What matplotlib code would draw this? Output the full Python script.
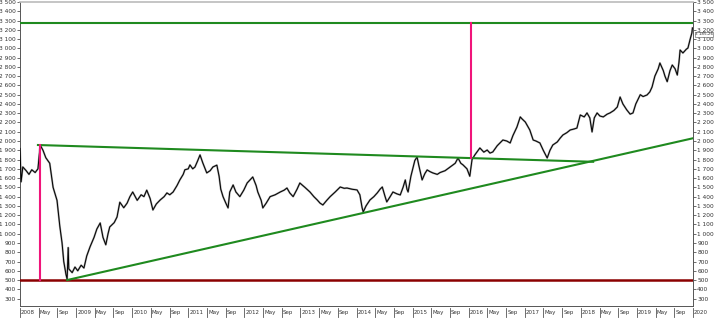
import matplotlib
matplotlib.use("Agg")
import matplotlib.pyplot as plt
import matplotlib.transforms as mtransforms
import numpy as np

# index level, decimal years
dates = [2008.00, 2008.02, 2008.05, 2008.11, 2008.16, 2008.21, 2008.27, 2008.32, 2008.36, 2008.41,
         2008.46, 2008.53, 2008.59, 2008.66, 2008.71, 2008.75, 2008.78, 2008.82, 2008.84, 2008.86,
         2008.87, 2008.93, 2008.98, 2009.03, 2009.09, 2009.14, 2009.19, 2009.25, 2009.32, 2009.37,
         2009.43, 2009.48, 2009.53, 2009.57, 2009.60, 2009.68, 2009.73, 2009.78, 2009.85, 2009.91,
         2009.96, 2010.01, 2010.09, 2010.16, 2010.21, 2010.26, 2010.32, 2010.37, 2010.43, 2010.50,
         2010.57, 2010.62, 2010.67, 2010.73, 2010.80, 2010.85, 2010.91, 2010.94, 2011.00, 2011.03,
         2011.08, 2011.12, 2011.17, 2011.21, 2011.26, 2011.33, 2011.39, 2011.44, 2011.51, 2011.55,
         2011.58, 2011.62, 2011.67, 2011.71, 2011.74, 2011.80, 2011.85, 2011.92, 2011.99, 2012.05,
         2012.10, 2012.15, 2012.21, 2012.24, 2012.30, 2012.33, 2012.39, 2012.46, 2012.55, 2012.64,
         2012.71, 2012.76, 2012.81, 2012.87, 2012.94, 2012.99, 2013.08, 2013.17, 2013.24, 2013.30,
         2013.35, 2013.40, 2013.47, 2013.53, 2013.62, 2013.71, 2013.78, 2013.83, 2013.92, 2014.01,
         2014.06, 2014.10, 2014.12, 2014.17, 2014.24, 2014.31, 2014.37, 2014.42, 2014.46, 2014.51,
         2014.54, 2014.60, 2014.65, 2014.72, 2014.78, 2014.83, 2014.87, 2014.90, 2014.92, 2014.97,
         2015.01, 2015.04, 2015.08, 2015.11, 2015.17, 2015.22, 2015.26, 2015.31, 2015.36, 2015.44,
         2015.49, 2015.58, 2015.67, 2015.76, 2015.81, 2015.86, 2015.90, 2015.97, 2016.02, 2016.06,
         2016.11, 2016.17, 2016.20, 2016.27, 2016.33, 2016.38, 2016.43, 2016.51, 2016.56, 2016.61,
         2016.68, 2016.74, 2016.79, 2016.86, 2016.92, 2016.95, 2017.01, 2017.06, 2017.09, 2017.15,
         2017.20, 2017.27, 2017.33, 2017.40, 2017.45, 2017.50, 2017.58, 2017.63, 2017.68, 2017.75,
         2017.81, 2017.88, 2017.93, 2017.99, 2018.06, 2018.11, 2018.16, 2018.20, 2018.24, 2018.29,
         2018.34, 2018.40, 2018.47, 2018.52, 2018.59, 2018.65, 2018.70, 2018.75, 2018.82, 2018.88,
         2018.93, 2018.98, 2019.06, 2019.11, 2019.18, 2019.23, 2019.27, 2019.32, 2019.38, 2019.41,
         2019.47, 2019.50, 2019.54, 2019.59, 2019.63, 2019.68, 2019.72, 2019.75, 2019.77, 2019.82,
         2019.88, 2019.91, 2019.95, 2019.98, 2019.99]
prices = [1920, 1560, 1720, 1680, 1640, 1690, 1660, 1700, 1957, 1900,
          1820, 1760, 1500, 1360, 1080, 900, 700, 560, 510, 850,
          620, 580, 640, 600, 660, 630, 760, 860, 960, 1050,
          1116, 960, 880, 1000, 1073, 1120, 1180, 1340, 1280, 1330,
          1400, 1450, 1360, 1420, 1400, 1470, 1380, 1256, 1320, 1364,
          1400, 1440, 1420, 1450, 1520, 1580, 1640, 1690, 1700, 1742,
          1700, 1720, 1790, 1850, 1763, 1656, 1680, 1720, 1740, 1620,
          1480, 1400, 1330, 1278, 1450, 1526, 1450, 1400, 1470, 1547,
          1580, 1612, 1520, 1450, 1360, 1278, 1330, 1400, 1420, 1450,
          1470, 1493, 1440, 1400, 1480, 1547, 1500, 1450, 1400, 1364,
          1330, 1310, 1360, 1400, 1450, 1504, 1490, 1493, 1480, 1472,
          1420, 1280, 1235, 1300, 1364, 1400, 1440, 1480, 1504, 1400,
          1343, 1400, 1450, 1430, 1418, 1500, 1580, 1480, 1450, 1620,
          1720, 1790, 1828, 1740, 1580, 1650, 1688, 1670, 1656, 1640,
          1660, 1680, 1720, 1760, 1817, 1760, 1742, 1700, 1620, 1800,
          1850, 1900, 1925, 1880, 1903, 1870, 1882, 1950, 1980, 2011,
          2000, 1979, 2060, 2150, 2260, 2240, 2205, 2150, 2119, 2011,
          2000, 1979, 1900, 1817, 1900, 1957, 1990, 2030, 2065, 2090,
          2119, 2130, 2140, 2281, 2260, 2303, 2250, 2098, 2250, 2303,
          2270, 2260, 2290, 2303, 2330, 2367, 2475, 2400, 2335, 2290,
          2303, 2400, 2500, 2480, 2497, 2530, 2583, 2700, 2780, 2842,
          2760, 2700, 2640, 2760, 2820, 2780, 2712, 2850, 2982, 2950,
          2990, 3004, 3100, 3166, 3220]

last_label = "3 185,26"

# levels and trend lines
resistance = 3270
support = 500
top_trend_x = [2008.32, 2018.22]
top_trend_y = [1957, 1776]
bottom_trend_x = [2008.84, 2020.0]
bottom_trend_y = [500, 2030]
drop_x = 2008.36
drop_y = [500, 1957]
target_x = 2016.05
target_y = [1820, 3270]

years = list(range(2008, 2020))
months = ["May", "Sep"]

green = "#1f8a1f"
magenta = "#f0147a"
darkred = "#8b0000"

fig = plt.figure(figsize=(7.2, 3.18), dpi=100)
ax = fig.add_axes([20 / 720, 12 / 318, 673 / 720, 304 / 318])

ax.plot(dates, prices, color="#a0a0a0", lw=1.4, zorder=2)
ax.plot(dates, prices, color="black", lw=0.7, zorder=3)

ax.axhline(resistance, color=green, lw=1.5, zorder=4)
ax.axhline(support, color=darkred, lw=1.8, zorder=4)
ax.plot(top_trend_x, top_trend_y, color=green, lw=1.5, zorder=4)
ax.plot(bottom_trend_x, bottom_trend_y, color=green, lw=1.5, zorder=4)
ax.plot([drop_x, drop_x], drop_y, color=magenta, lw=1.5, zorder=4)
ax.plot([target_x, target_x], target_y, color=magenta, lw=1.5, zorder=4)

ax.set_xlim(2008, 2020)
ax.set_ylim(220, 3500)

yt = np.arange(300, 3501, 100)
ylabels = [f"{v:,}".replace(",", " ") for v in yt]
ax.set_yticks(yt)
ax.set_yticklabels(ylabels)
ax.tick_params(axis="y", which="both", labelsize=4.2, length=2, width=0.5,
               colors="#333333", left=True, right=True, labelleft=True, labelright=True, pad=1)
ax.set_xticks([])

for s in ["left", "right", "bottom"]:
    ax.spines[s].set_color("#555555")
    ax.spines[s].set_linewidth(0.7)
ax.spines["top"].set_color("#bbbbbb")
ax.spines["top"].set_linewidth(1.2)

# date strip under the plot
trans = mtransforms.blended_transform_factory(ax.transData, ax.transAxes)
cells = []
for y in years:
    cells.append((y, str(y)))
    cells.append((y + 4 / 12, months[0]))
    cells.append((y + 8 / 12, months[1]))
cells.append((2020, "2020"))
for pos, lab in cells:
    ax.plot([pos, pos], [-0.008, -0.036], transform=trans, color="#555555", lw=0.6, clip_on=False)
    ax.text(pos + 0.02, -0.022, lab, transform=trans, fontsize=4.0, color="#333333",
            ha="left", va="center", clip_on=False)

ax.text(1.003, (3150 - 220) / (3500 - 220), last_label, transform=ax.transAxes, fontsize=3.0,
        color="#333333", ha="left", va="center",
        bbox=dict(boxstyle="square,pad=0.05", fc="white", ec="#555555", lw=0.4))

fig.savefig("out.png", dpi=100)
